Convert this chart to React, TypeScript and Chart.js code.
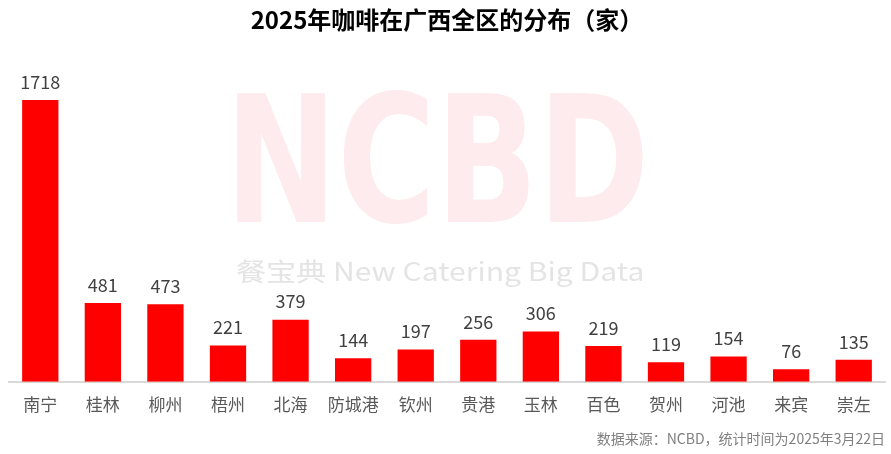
import React, { useEffect, useRef } from "react";
import { Chart, registerables } from "chart.js";

Chart.register(...registerables);

const categories = ["南宁", "桂林", "柳州", "梧州", "北海", "防城港", "钦州", "贵港", "玉林", "百色", "贺州", "河池", "来宾", "崇左"];
const counts = [1718, 481, 473, 221, 379, 144, 197, 256, 306, 219, 119, 154, 76, 135];
const titleText = "2025年咖啡在广西全区的分布（家）";
const sourceText = "数据来源：NCBD，统计时间为2025年3月22日";
const watermarkBig = "NCBD";
const watermarkSmall = "餐宝典 New Catering Big Data";

const FONT = "'Noto Sans CJK SC', 'Noto Sans', sans-serif";

function fitText(ctx: any, text: string, font: string, x0: number, y0: number, x1: number, y1: number) {
  ctx.save();
  ctx.font = font;
  ctx.textAlign = "left";
  ctx.textBaseline = "alphabetic";
  const m = ctx.measureText(text);
  const left = m.actualBoundingBoxLeft;
  const right = m.actualBoundingBoxRight;
  const asc = m.actualBoundingBoxAscent;
  const desc = m.actualBoundingBoxDescent;
  const sx = (x1 - x0) / (left + right);
  const sy = (y1 - y0) / (asc + desc);
  ctx.translate(x0, y0);
  ctx.scale(sx, sy);
  ctx.fillText(text, left, asc);
  ctx.restore();
}

const watermarkPlugin = {
  id: "watermark",
  beforeDraw(chart: any) {
    const ctx = chart.ctx;
    ctx.save();
    ctx.fillStyle = "rgb(253, 235, 238)";
    fitText(ctx, watermarkBig, "bold 180px 'DejaVu Sans', sans-serif", 237, 90, 643, 225);
    ctx.fillStyle = "rgb(228, 228, 228)";
    fitText(ctx, watermarkSmall, `27px ${FONT}`, 237, 259, 643, 287);
    ctx.restore();
  },
};

const valueLabelPlugin = {
  id: "valueLabels",
  afterDatasetsDraw(chart: any) {
    const ctx = chart.ctx;
    const meta = chart.getDatasetMeta(0);
    ctx.save();
    ctx.fillStyle = "#404040";
    ctx.font = `18px ${FONT}`;
    ctx.textAlign = "center";
    ctx.textBaseline = "bottom";
    meta.data.forEach((bar: any, i: number) => {
      ctx.fillText(String(counts[i]), bar.x, bar.y - 9);
    });
    ctx.restore();
  },
};

export default function App() {
  const ref = useRef<HTMLCanvasElement | null>(null);
  useEffect(() => {
    document.body.style.margin = "0";
    const chart = new Chart(ref.current as HTMLCanvasElement, {
      type: "bar",
      data: {
        labels: categories,
        datasets: [
          {
            data: counts,
            backgroundColor: "#ff0000",
            barPercentage: 0.58,
            categoryPercentage: 1,
          },
        ],
      },
      options: {
        animation: false,
        responsive: false,
        layout: { padding: { left: 9, right: 6, top: 0, bottom: 0 } },
        plugins: {
          legend: { display: false },
          tooltip: { enabled: false },
          title: {
            display: true,
            text: titleText,
            color: "#000000",
            font: { size: 24, weight: "bold", family: FONT },
            padding: { top: 5, bottom: 20 },
          },
          subtitle: {
            display: true,
            text: sourceText,
            position: "bottom",
            align: "end",
            color: "#808080",
            font: { size: 14, family: FONT },
            padding: { top: 2, bottom: 7 },
          },
        },
        scales: {
          x: {
            grid: { display: false, drawTicks: false },
            border: { display: true, color: "#d9d9d9", width: 2 },
            ticks: { color: "#595959", font: { size: 17, family: FONT }, padding: 13 },
          },
          y: {
            display: false,
            min: 0,
            max: 2000,
          },
        },
      },
      plugins: [watermarkPlugin, valueLabelPlugin],
    });
    return () => chart.destroy();
  }, []);
  return <canvas ref={ref} width={891} height={454} style={{ display: "block" }} />;
}
